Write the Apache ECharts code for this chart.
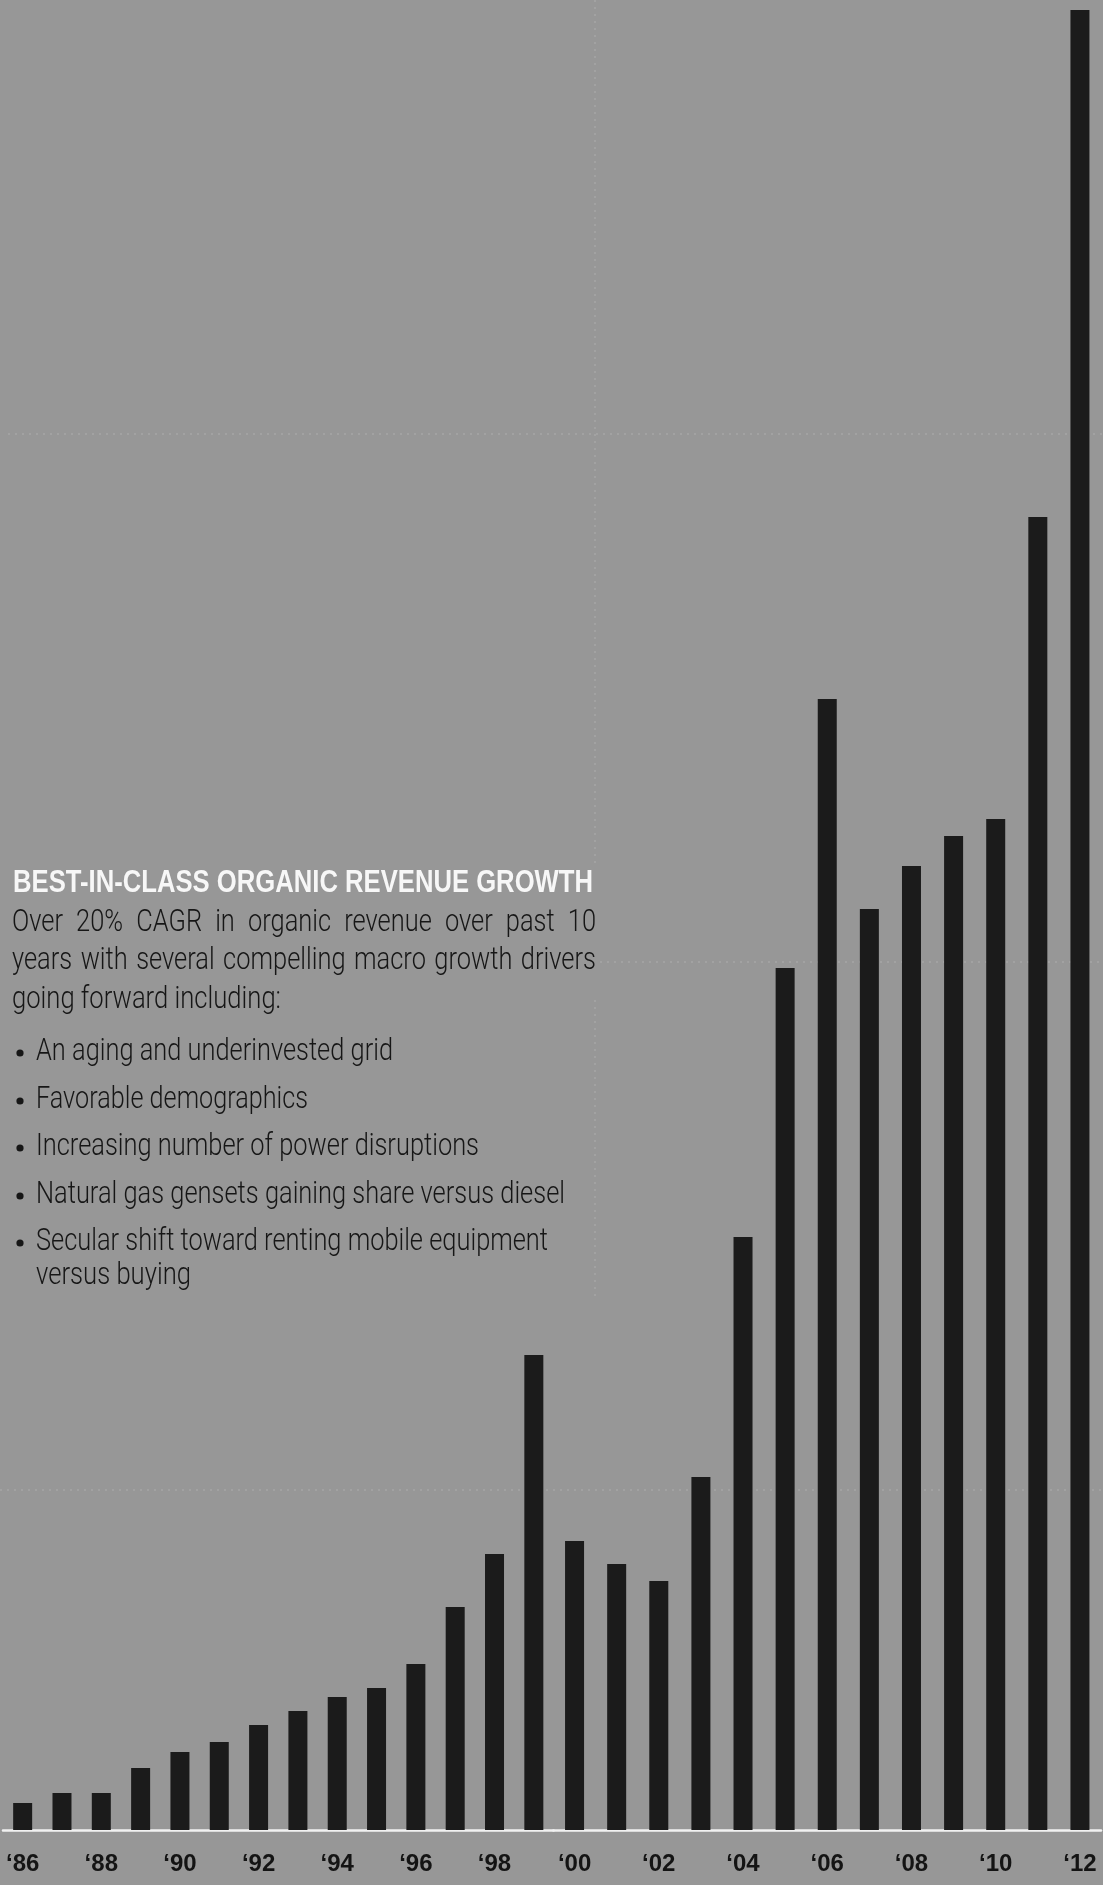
<!DOCTYPE html>
<html><head><meta charset="utf-8">
<script src="https://cdn.jsdelivr.net/npm/echarts@6/dist/echarts.min.js"></script>
<style>html,body{margin:0;padding:0;background:#979797}#chart{width:1103px;height:1885px}</style>
</head><body><div id="chart"></div>
<script>
// ---------- data ----------
const years = ['‘86','‘87','‘88','‘89','‘90','‘91','‘92','‘93','‘94','‘95','‘96','‘97','‘98','‘99',
               '‘00','‘01','‘02','‘03','‘04','‘05','‘06','‘07','‘08','‘09','‘10','‘11','‘12'];
// organic revenue, relative units
const revenue = [27,37,37,62,78,88,105,119,133,142,166,223,276,475,
                 289,266,249,353,593,862,1131,921,964,994,1011,1313,1820];
const SPLIT = 14; // the scan's second page starts at '00
const heading = 'BEST-IN-CLASS ORGANIC REVENUE GROWTH';
const paragraph = ['Over 20% CAGR in organic revenue over past 10',
                   'years with several compelling macro growth drivers',
                   'going forward including:'];
const bullets = [['An aging and underinvested grid'],
                 ['Favorable demographics'],
                 ['Increasing number of power disruptions'],
                 ['Natural gas gensets gaining share versus diesel'],
                 ['Secular shift toward renting mobile equipment','versus buying']];

// ---------- helpers ----------
const mctx = document.createElement('canvas').getContext('2d');
function tw(t, f){ mctx.font = f; return mctx.measureText(t).width; }
function hasFont(n){
  const s='‘86 abcdefgWMil';
  return Math.abs(tw(s,'bold 40px "'+n+'", monospace') - tw(s,'bold 40px monospace'))>0.5;
}
const fNarrow = hasFont('Liberation Sans Narrow');
const fRoboto = hasFont('Roboto');

let labelFam, labelSize;
if (fNarrow){ labelFam='"Liberation Sans Narrow"'; labelSize=26; }
else { labelFam='"Liberation Sans"'; labelSize=24; }

const BODY_FS = 32, TITLE_FS = 31;
const bodyFont = fRoboto ? '300 '+BODY_FS+'px Roboto' : BODY_FS+'px "Liberation Sans"';
const titleFont = 'bold '+TITLE_FS+'px "Liberation Sans"';
const TXT = '#161616';
function yMid(baseline, fs){ return baseline - 0.345*fs; }

const graphics = [];
// faint fold lines of the scanned page
const fold = {type:'line', z:0, silent:true, style:{stroke:'rgba(255,255,255,0.22)', lineWidth:1, lineDash:[2,5]}};
graphics.push(Object.assign({}, fold, {shape:{x1:8,y1:434,x2:1103,y2:434}}));
graphics.push(Object.assign({}, fold, {shape:{x1:600,y1:962,x2:1103,y2:962}}));
graphics.push(Object.assign({}, fold, {shape:{x1:0,y1:1490,x2:1103,y2:1490}}));
graphics.push(Object.assign({}, fold, {shape:{x1:595,y1:0,x2:595,y2:868}}));
graphics.push(Object.assign({}, fold, {shape:{x1:595,y1:1000,x2:595,y2:1300}}));

function addText(text, x, baseline, width, font, fs, fill){
  const s = width / tw(text, font);
  graphics.push({type:'text', z:10, x:x, y:yMid(baseline, fs), scaleX:s,
    style:{text:text, font:font, fill:fill, align:'left', verticalAlign:'middle'}});
  return s;
}
// heading
addText(heading, 13, 894, 580, titleFont, TITLE_FS, '#f7f7f7');

// bullets (left aligned)
const bulletBase = [[1063],[1111],[1158],[1206],[1253,1287]];
const bulletW = [[357],[272],[443],[529],[512,155]];
const scales = [];
bullets.forEach((lines,i)=>{
  graphics.push({type:'circle', z:10, shape:{cx:20, cy:bulletBase[i][0]-10, r:3.6}, style:{fill:TXT}});
  lines.forEach((ln,j)=>{ scales.push(addText(ln, 36, bulletBase[i][j], bulletW[i][j], bodyFont, BODY_FS, TXT)); });
});
// paragraph: last line left aligned, first two justified
const paraBase = [934, 972, 1011];
scales.push(addText(paragraph[2], 12, paraBase[2], 269, bodyFont, BODY_FS, TXT));
const sAvg = scales.reduce((a,b)=>a+b,0)/scales.length;
[0,1].forEach(k=>{
  const words = paragraph[k].split(' ');
  const ws = words.map(w=>tw(w, bodyFont)*sAvg);
  const total = 584, sum = ws.reduce((a,b)=>a+b,0);
  const gap = (total - sum)/(words.length-1);
  let x = 12;
  words.forEach((w,i)=>{
    graphics.push({type:'text', z:10, x:x, y:yMid(paraBase[k], BODY_FS), scaleX:sAvg,
      style:{text:w, font:bodyFont, fill:TXT, align:'left', verticalAlign:'middle'}});
    x += ws[i] + gap;
  });
});

// ---------- chart ----------
const GRID_BOTTOM = 55, PLOT_H = 1830;
const axisCommon = {
  type:'category', boundaryGap:true, offset:14,
  axisTick:{show:false},
  axisLine:{show:true, lineStyle:{color:'#f2f2f2', width:2.5}},
  axisLabel:{interval:1, color:'#141414', fontFamily:labelFam, fontWeight:'bold', fontSize:labelSize, margin:8}
};
const yCommon = {type:'value', min:0, max:PLOT_H, show:false, splitLine:{show:false}};
const barCommon = {type:'bar', barWidth:19, itemStyle:{color:'#1b1b1b'}, silent:true, animation:false};

const chart = echarts.init(document.getElementById('chart'), null, {renderer:'canvas'});
chart.setOption({
  backgroundColor:'#979797',
  animation:false,
  grid:[{left:3, width:550.5, top:0, bottom:GRID_BOTTOM},
        {left:553.5, width:547.5, top:0, bottom:GRID_BOTTOM}],
  xAxis:[Object.assign({}, axisCommon, {gridIndex:0, data:years.slice(0,SPLIT)}),
         Object.assign({}, axisCommon, {gridIndex:1, data:years.slice(SPLIT)})],
  yAxis:[Object.assign({}, yCommon, {gridIndex:0}), Object.assign({}, yCommon, {gridIndex:1})],
  series:[Object.assign({}, barCommon, {xAxisIndex:0, yAxisIndex:0, data:revenue.slice(0,SPLIT)}),
          Object.assign({}, barCommon, {xAxisIndex:1, yAxisIndex:1, data:revenue.slice(SPLIT)})],
  graphic:{elements:graphics}
});
</script></body></html>
